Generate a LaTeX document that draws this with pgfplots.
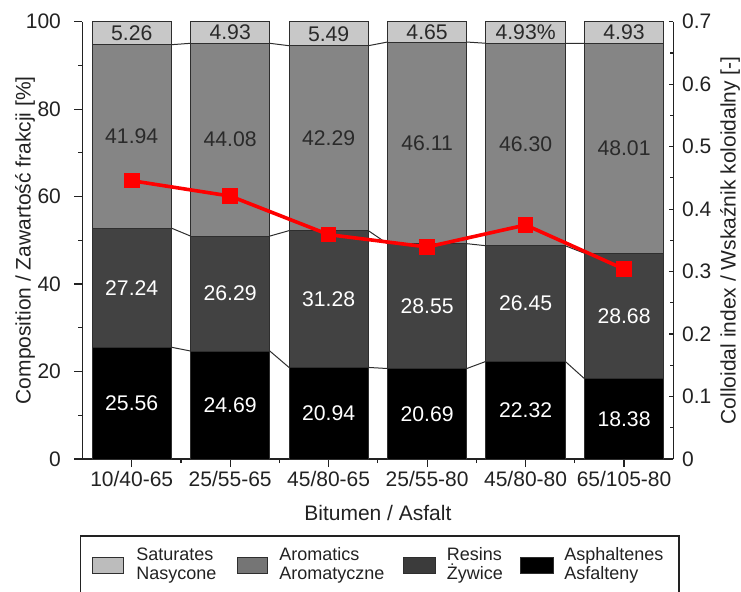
\documentclass[border=0pt]{standalone}
\usepackage{fontspec}
\setmainfont{Liberation Sans}
\usepackage{pgfplots}
\pgfplotsset{compat=1.18}
\usepackage{pgfplotstable}

\definecolor{satfill}{HTML}{C8C8C8}
\definecolor{aromfill}{HTML}{858585}
\definecolor{resfill}{HTML}{424242}
\definecolor{asphfill}{HTML}{000000}
\definecolor{edge}{HTML}{2E2E2E}
\definecolor{ink}{HTML}{222222}
\definecolor{labdark}{HTML}{2A2A2A}

% SARA fractions [%] per binder
\pgfplotstableread{
x asph  res   arom  sat
0 25.56 27.24 41.94 5.26
1 24.69 26.29 44.08 4.93
2 20.94 31.28 42.29 5.49
3 20.69 28.55 46.11 4.65
4 22.32 26.45 46.30 4.93
5 18.38 28.68 48.01 4.93
}\sara

\tikzset{
  tickfont/.style={font=\fontsize{10.5}{12}\selectfont, text=ink},
  valfont/.style={font=\fontsize{10.6}{12}\selectfont},
}
\pgfplotsset{
  frame/.style={scale only axis, width=295.4pt, height=218.65pt,
    xmin=-0.5, xmax=5.5, clip=false},
}

\begin{document}
\begin{tikzpicture}
\useasboundingbox (-41.25pt,-66pt) rectangle (329.25pt,229.5pt);
\clip (-41.25pt,-66pt) rectangle (329.25pt,229.5pt);

% stacked composition bars, left axis
\begin{axis}[frame, ymin=0, ymax=100,
  ybar stacked, bar width=0.805,
  axis x line*=bottom, axis y line*=left,
  axis line style={-, ink, line width=0.6pt},
  xtick={0,...,5},
  xticklabels={10/40-65,25/55-65,45/80-65,25/55-80,45/80-80,65/105-80},
  minor xtick={0.5,1.5,2.5,3.5,4.5},
  ytick={0,20,40,60,80,100}, minor ytick={10,30,50,70,90},
  tick align=outside, major tick length=4pt, minor tick length=2pt,
  tick style={ink, line width=0.6pt},
  /pgf/number format/assume math mode=true,
  ticklabel style={tickfont},
  xticklabel style={inner sep=0pt, anchor=north, yshift=-2pt},
  yticklabel style={inner sep=0pt, anchor=east, xshift=-6.6pt},
  xlabel={Bitumen / Asfalt},
  ylabel={Composition / Zawartość frakcji [\%]},
  xlabel style={tickfont, at={(axis description cs:0.5,-0.1235)}, anchor=center},
  ylabel style={tickfont, at={(axis description cs:-0.0973,0.5)}, anchor=center},
]
\addplot[fill=asphfill, draw=edge, line width=0.5pt] table[x=x, y=asph] {\sara};
\addplot[fill=resfill,  draw=edge, line width=0.5pt] table[x=x, y=res]  {\sara};
\addplot[fill=aromfill, draw=edge, line width=0.5pt] table[x=x, y=arom] {\sara};
\addplot[fill=satfill,  draw=edge, line width=0.5pt] table[x=x, y=sat]  {\sara};
\end{axis}

% connecting lines between stack boundaries and value labels
\begin{axis}[frame, ymin=0, ymax=100, hide axis]
\addplot[edge, line width=0.5pt, unbounded coords=jump, mark=none] coordinates {
  (0.4025,25.56) (0.5975,24.69) (0.5,nan)
  (1.4025,24.69) (1.5975,20.94) (1.5,nan)
  (2.4025,20.94) (2.5975,20.69) (2.5,nan)
  (3.4025,20.69) (3.5975,22.32) (3.5,nan)
  (4.4025,22.32) (4.5975,18.38)};
\addplot[edge, line width=0.5pt, unbounded coords=jump, mark=none] coordinates {
  (0.4025,52.80) (0.5975,50.98) (0.5,nan)
  (1.4025,50.98) (1.5975,52.22) (1.5,nan)
  (2.4025,52.22) (2.5975,49.24) (2.5,nan)
  (3.4025,49.24) (3.5975,48.77) (3.5,nan)
  (4.4025,48.77) (4.5975,47.06)};
\addplot[edge, line width=0.5pt, unbounded coords=jump, mark=none] coordinates {
  (0.4025,94.74) (0.5975,95.06) (0.5,nan)
  (1.4025,95.06) (1.5975,94.51) (1.5,nan)
  (2.4025,94.51) (2.5975,95.35) (2.5,nan)
  (3.4025,95.35) (3.5975,95.07) (3.5,nan)
  (4.4025,95.07) (4.5975,95.07)};

% asphaltenes
\addplot[draw=none, mark=none, nodes near coords, point meta=explicit symbolic,
  every node near coord/.style={anchor=center, inner sep=0pt, valfont, text=white}]
  coordinates {(0,12.78)[25.56] (1,12.345)[24.69] (2,10.47)[20.94]
               (3,10.345)[20.69] (4,11.16)[22.32] (5,9.19)[18.38]};
% resins
\addplot[draw=none, mark=none, nodes near coords, point meta=explicit symbolic,
  every node near coord/.style={anchor=center, inner sep=0pt, valfont, text=white}]
  coordinates {(0,39.18)[27.24] (1,37.835)[26.29] (2,36.58)[31.28]
               (3,34.965)[28.55] (4,35.545)[26.45] (5,32.72)[28.68]};
% aromatics
\addplot[draw=none, mark=none, nodes near coords, point meta=explicit symbolic,
  every node near coord/.style={anchor=center, inner sep=0pt, valfont, text=labdark}]
  coordinates {(0,73.77)[41.94] (1,73.02)[44.08] (2,73.365)[42.29]
               (3,72.295)[46.11] (4,71.92)[46.30] (5,71.065)[48.01]};
% saturates
\addplot[draw=none, mark=none, nodes near coords, point meta=explicit symbolic,
  every node near coord/.style={anchor=center, inner sep=0pt, valfont, text=labdark}]
  coordinates {(0,97.37)[5.26] (1,97.525)[4.93] (2,97.255)[5.49]
               (3,97.675)[4.65] (4,97.535)[4.93\%] (5,97.535)[4.93]};
\end{axis}

% colloidal index, right axis
\begin{axis}[frame, ymin=0, ymax=0.7,
  axis y line*=right, axis x line=none,
  axis line style={-, ink, line width=0.6pt},
  ytick={0,0.1,0.2,0.3,0.4,0.5,0.6,0.7},
  minor ytick={0.05,0.15,0.25,0.35,0.45,0.55,0.65},
  tick align=inside, major tick length=2pt, minor tick length=1.6pt,
  tick style={ink, line width=0.6pt},
  /pgf/number format/assume math mode=true,
  /pgf/number format/fixed,
  ticklabel style={tickfont},
  yticklabel style={inner sep=0pt, anchor=west, xshift=4.2pt},
  ylabel={Colloidal index / Wskaźnik koloidalny [-]},
  ylabel style={tickfont, at={(axis description cs:1.096,0.5)}, anchor=center},
]
\addplot[red, line width=1.8pt, mark=square*,
  mark options={draw=none, fill=red, mark size=3pt}]
  coordinates {(0,0.4455) (1,0.4209) (2,0.3592) (3,0.3394) (4,0.3746) (5,0.3040)};
\end{axis}

% legend
\begin{scope}[font=\fontsize{9}{9.4}\selectfont, text=ink]
\draw[ink, line width=0.6pt] (-0.9pt,-38.5pt) rectangle (298.25pt,-90pt);
\draw[edge, line width=0.5pt, fill=satfill!94!black]  (5.25pt,-57pt) rectangle (20.75pt,-49pt);
\draw[edge, line width=0.5pt, fill=aromfill!88!black] (77.75pt,-57pt) rectangle (92.75pt,-49pt);
\draw[edge, line width=0.5pt, fill=resfill!90!black]  (160.75pt,-57pt) rectangle (176.75pt,-49pt);
\draw[edge, line width=0.5pt, fill=asphfill] (219.25pt,-57pt) rectangle (235.25pt,-49pt);
\node[anchor=west, align=left, inner sep=0pt] at (26.75pt,-53.2pt) {Saturates\\Nasycone};
\node[anchor=west, align=left, inner sep=0pt] at (98.25pt,-53.2pt) {Aromatics\\Aromatyczne};
\node[anchor=west, align=left, inner sep=0pt] at (182pt,-53.2pt) {Resins\\Żywice};
\node[anchor=west, align=left, inner sep=0pt] at (240.75pt,-53.2pt) {Asphaltenes\\Asfalteny};
\end{scope}
\end{tikzpicture}
\end{document}
